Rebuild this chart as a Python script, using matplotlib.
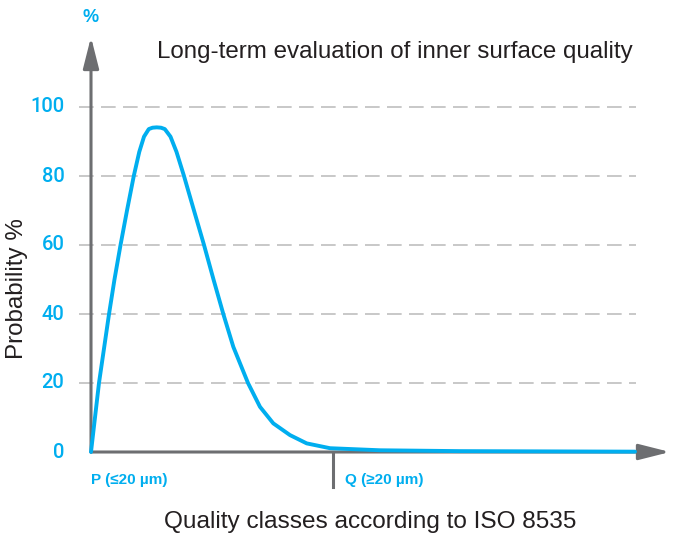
import matplotlib
matplotlib.use("Agg")
import matplotlib.pyplot as plt

# curve (x: class axis, Q tick at 40; y: probability %)
curve_x = [0, 0.66, 1.32, 2.15, 2.98, 3.88, 4.88, 5.95, 7.07, 7.98, 8.76,
           9.55, 10.17, 10.86, 11.57, 12.2, 13.14, 14.13, 15.37, 17.02,
           18.68, 20.25, 21.87, 23.52, 25.95, 27.93, 30.13, 32.89, 35.65,
           39.5, 47.77, 60.99, 89.92]
curve_y = [0, 10, 20, 30, 40, 50, 60, 70, 80, 87, 91.4,
           93.6, 94.0, 94.1, 94.0, 93.6, 91.4, 87, 80, 70,
           60, 50, 40, 30.5, 20, 13.1, 8.3, 4.9, 2.5,
           1.1, 0.5, 0.25, 0.1]

y_ticks = [0, 20, 40, 60, 80, 100]
grid_levels = [20, 40, 60, 80, 100]
class_pos = [0, 40]
class_labels = ["P (≤20 µm)", "Q (≥20 µm)"]

title = "Long-term evaluation of inner surface quality"
x_title = "Quality classes according to ISO 8535"
y_title = "Probability %"

blue = "#00aeef"
gray = "#6d6e71"
dark = "#231f20"

plt.rcParams["font.family"] = ["Liberation Sans", "DejaVu Sans"]

W, H = 673, 537
fig = plt.figure(figsize=(W / 100, H / 100), dpi=100)
# axes spans from origin (91, 452) to arrow tips (670, 37) in pixels
ax = fig.add_axes([91 / W, (H - 452) / H, (670 - 91) / W, (452 - 37) / H])
ax.set_xlim(0, (670 - 91) / 6.05)
ax.set_ylim(0, (452 - 37) / 3.45)
ax.axis("off")

for g in grid_levels:
    ax.plot([-2, 90], [g, g], color="#b9b9b9", lw=1.1, dashes=(9.6, 4.8),
            clip_on=False, zorder=1)

ax.plot(curve_x, curve_y, color=blue, lw=2.8, solid_capstyle="round",
        solid_joinstyle="round", zorder=3, clip_on=False)

arrow = dict(arrowstyle="-|>,head_length=1.9,head_width=0.48", color=gray,
             lw=2.2, shrinkA=0, shrinkB=0)
ax.annotate("", xy=(ax.get_xlim()[1], 0), xytext=(0, 0), arrowprops=arrow, zorder=2)
ax.annotate("", xy=(0, ax.get_ylim()[1]), xytext=(0, 0), arrowprops=arrow, zorder=2)

# Q class tick
ax.plot([class_pos[1], class_pos[1]], [0, -10], color=gray, lw=2.2,
        clip_on=False, zorder=2)

for v in y_ticks:
    ax.text(-4.4, v, str(v), color=blue, fontsize=14.5, fontweight="medium",
            family=["Roboto", "Liberation Sans"],
            ha="right", va="center", clip_on=False)

for p, lab in zip(class_pos, class_labels):
    ax.text(p + (0 if p == 0 else 2), -8.2, lab, color=blue, fontsize=11,
            fontweight="bold", ha="left", va="center", clip_on=False)

fig.text(91 / W, 1 - 17 / H, "%", color=blue, fontsize=13, fontweight="bold",
         ha="center", va="center")
fig.text(395 / W, 1 - 52 / H, title, color=dark, fontsize=17.4,
         ha="center", va="center")
fig.text(370 / W, 1 - 522 / H, x_title, color=dark, fontsize=17.6,
         ha="center", va="center")
fig.text(17 / W, 1 - 289 / H, y_title, color=dark, fontsize=17.4,
         rotation=90, ha="center", va="center")

fig.savefig("out.png", dpi=100)
